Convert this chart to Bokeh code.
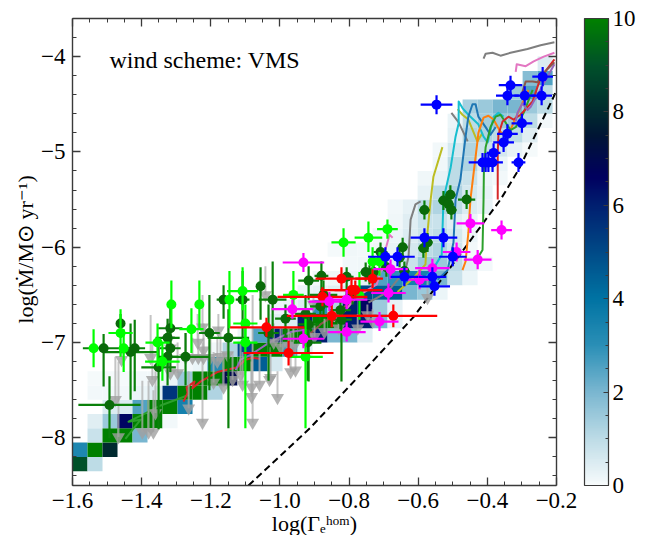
from bokeh.plotting import figure
from bokeh.models import (ColumnDataSource, LinearColorMapper, ColorBar, FixedTicker, LinearAxis,
                          Label, Range1d)
from bokeh.embed import file_html
from bokeh.resources import INLINE

NAN = float("nan")
SERIF = "Liberation Serif"

x_title = "log(\u0393\u2091\u02b0\u1d52\u1d50)"
y_title = "log(\u1e40/M\u2299 yr\u207b\u00b9)"

# --- 2D histogram: row index -> (first column, counts)
heat_rows = [
    (0, [9, 1]),
    (0, [3.3, 10, 8]),
    (1, [0.8, 10, 10, 2]),
    (1, [0.4, 1.5, 6.5, 10, 10, 0.1]),
    (2, [0.5, 0.5, 2.5, 10, 10, 3.5]),
    (1, [0.1, 0.1, 0.1, 0.2, 0.4, 5.5, 10, 10, 1.2]),
    (1, [0.05, 0.05, 0.05, 0.1, 0.1, 0.2, 1.5, 10, 10, 7, 0.2]),
    (7, [0.1, 0.2, 3.2, 10, 10, 4.5, 0.6]),
    (9, [0.1, 1.2, 5, 10, 10, 2.8, 0.4]),
    (11, [0.2, 2.5, 6, 10, 10, 6, 2, 2, 0.4]),
    (13, [0.4, 0.5, 6, 10, 10, 6, 6, 2, 0.3]),
    (13, [0.2, 0.3, 0.5, 3, 1.2, 6, 6.5, 1.5, 0.3]),
    (15, [0.2, 0.3, 0.4, 0.5, 5, 4.5, 4.5, 2, 1.5, 0.2]),
    (16, [0.1, 0.15, 0.2, 0.3, 2.5, 3, 3.5, 3.5, 2, 0.8, 0.2]),
    (18, [0.1, 0.15, 0.2, 0.5, 0.8, 1.5, 1.5, 1, 0.4, 0.1]),
    (17, [0.05, 0.15, 0.1, 0.15, 0.3, 0.6, 1, 1.2, 0.7, 0.1]),
    (20, [0.1, 0.2, 0.5, 0.8, 1, 0.6, 0.2]),
    (21, [0.15, 0.4, 0.8, 0.8, 0.4, 0.2]),
    (21, [0.1, 0.3, 1, 1.2, 1, 0.5, 0.3]),
    (23, [0.3, 1, 1.2, 0.6, 0.3]),
    (23, [0.15, 0.3, 1, 0.8, 0.2, 0.1]),
    (24, [0.15, 1, 1.2, 0.4, 0.2]),
    (24, [0.1, 0.6, 1.2, 0.8, 0.6, 0.3, 0.05]),
    (25, [0.3, 1.2, 1.2, 1, 1, 0.4]),
    (25, [0.2, 1, 1.4, 1.5, 1.5, 1, 0.1]),
    (26, [1.3, 1.5, 2, 2, 1.5, 1]),
    (29, [1.5, 2.5, 1]),
    (30, [1.8, 2.5]),
    (31, [0.5]),
]
heat_x0 = -1.6
heat_dx = 0.0434
heat_y0 = -8.35
heat_dy = 0.15

# --- colour map stops
cmap_stops = [(0, "#f7fbfc"), (1, "#bcdbe6"), (2, "#79b6d0"), (3, "#2a8fb6"), (4, "#0073a3"),
              (5, "#004a87"), (6, "#001f70"), (6.6, "#000060"), (7.5, "#001535"),
              (8, "#002a2f"), (9, "#00502a"), (10, "#008000")]

# --- observations
blue_x = [-0.547, -0.333, -0.342, -0.292, -0.243, -0.24, -0.30, -0.342, -0.353, -0.382, -0.414, -0.405, -0.397,
          -0.385, -0.31, -0.582, -0.527, -0.695, -0.66, -0.50, -0.64, -0.559, -0.553]
blue_y = [-4.504, -4.30, -4.41, -4.41, -4.41, -4.21, -4.70, -4.81, -4.90, -5.01, -5.11, -5.11, -5.11,
          -5.11, -5.11, -5.90, -5.90, -6.10, -6.10, -6.10, -6.31, -6.31, -6.41]
blue_xe = [0.046, 0.034, 0.033, 0.03, 0.03, 0.03, 0.03, 0.03, 0.03, 0.02, 0.04, 0.02, 0.02,
           0.03, 0.02, 0.04, 0.04, 0.05, 0.05, 0.04, 0.04, 0.04, 0.045]
blue_ye = [0.1] * 23

magenta_x = [-0.449, -0.359, -0.489, -0.428, -0.559, -0.68, -0.596, -0.686, -0.807, -0.857, -0.932, -0.712, -0.807,
             -0.932, -0.964]
magenta_y = [-5.75, -5.82, -6.05, -6.13, -6.22, -6.23, -6.34, -6.48, -6.55, -6.57, -6.16, -6.78, -6.89,
             -6.96, -6.65]
magenta_xe = [0.04, 0.03, 0.04, 0.04, 0.05, 0.05, 0.04, 0.05, 0.06, 0.06, 0.06, 0.055, 0.055, 0.06, 0.06]
magenta_ye = [0.1, 0.1, 0.1, 0.1, 0.1, 0.1, 0.1, 0.1, 0.1, 0.1, 0.1, 0.1, 0.1, 0.1, 0.1]

red_x = [-1.039, -0.975, -0.85, -0.877, -0.822, -0.793, -0.782, -0.732, -0.672]
red_y = [-6.84, -7.11, -6.72, -6.52, -6.33, -6.45, -6.45, -6.33, -6.72]
red_xlo = [0.105, 0.13, 0.13, 0.13, 0.075, 0.09, 0.06, 0.05, 0.24]
red_xhi = [0.11, 0.13, 0.13, 0.13, 0.075, 0.09, 0.06, 0.03, 0.127]
red_ye = [0.1, 0.13, 0.12, 0.1, 0.12, 0.12, 0.1, 0.1, 0.12]

lime_x = [-1.539, -1.461, -1.452, -1.354, -1.314, -1.256, -1.233, -1.34, -1.146, -1.108, -1.10, -1.10, -0.961, -0.926,
          -0.816, -0.744, -0.689, -0.732, -0.712, -0.77]
lime_y = [-7.06, -6.90, -7.06, -7.0, -6.60, -6.86, -6.60, -7.20, -6.55, -6.46, -6.80, -7.0, -6.5, -7.15,
          -5.95, -5.90, -5.81, -6.15, -6.15, -6.51]
lime_xe = [0.0, 0.035, 0.01, 0.035, 0.0, 0.035, 0.0, 0.05, 0.0, 0.045, 0.035, 0.035, 0.03, 0.05,
           0.035, 0.04, 0.03, 0.0, 0.0, 0.0]
lime_ylo = [0.2, 0.25, 0.25, 0.25, 0.25, 0.25, 0.25, 0.2, 0.3, 0.2, 0.25, 0.9, 0.2, 0.75,
            0.15, 0.15, 0.1, 0.15, 0.15, 0.25]
lime_yhi = [0.2, 0.25, 0.2, 0.2, 0.25, 0.22, 0.25, 0.2, 0.3, 0.25, 0.2, 0.2, 0.25, 0.4,
            0.15, 0.17, 0.1, 0.15, 0.1, 0.25]

dgreen_x = [-1.51, -1.461, -1.42, -1.432, -1.493, -1.317, -1.325, -1.317, -1.325, -1.351, -1.273, -1.204, -1.163,
            -1.108, -1.149, -1.056, -1.021, -1.033, -0.917, -0.88, -0.874, -0.984, -0.926, -0.92, -0.807, -0.883,
            -0.917, -0.825, -0.822, -0.79, -0.752, -0.741, -0.729, -0.709, -0.692, -0.645, -0.654, -0.64, -0.585,
            -0.573, -0.507, -0.527, -0.512, -0.46, -0.582, -0.504]
dgreen_y = [-7.06, -6.80, -7.06, -7.10, -7.655, -6.85, -6.95, -7.06, -7.15, -7.26, -7.15, -6.90, -6.55,
            -6.55, -6.95, -6.41, -6.55, -6.90, -6.35, -6.30, -6.50, -6.75, -6.70, -7.0, -6.31, -6.62,
            -6.81, -6.66, -6.76, -6.5, -6.26, -6.29, -6.26, -6.05, -6.21, -6.0, -6.11, -6.25, -6.01,
            -5.95, -5.45, -5.51, -5.55, -5.50, -5.61, -5.61]
dgreen_xe = [0.06, 0.0, 0.03, 0.08, 0.09, 0.035, 0.035, 0.03, 0.03, 0.05, 0.07, 0.03, 0.02,
             0.02, 0.06, 0.01, 0.04, 0.03, 0.03, 0.02, 0.04, 0.03, 0.03, 0.04, 0.02, 0.03,
             0.03, 0.03, 0.03, 0.02, 0.015, 0.015, 0.015, 0.02, 0.015, 0.015, 0.015, 0.015, 0.015,
             0.015, 0.015, 0.015, 0.015, 0.025, 0.015, 0.015]
dgreen_ylo = [0.4, 0.15, 0.45, 0.5, 0.35, 0.3, 0.3, 0.25, 0.3, 0.65, 0.3, 0.6, 0.2,
              0.4, 0.95, 0.35, 0.4, 0.5, 0.2, 0.2, 0.2, 0.2, 0.2, 0.4, 0.2, 0.15,
              0.6, 0.2, 0.65, 0.1, 0.1, 0.1, 0.1, 0.1, 0.1, 0.1, 0.1, 0.1, 0.1,
              0.1, 0.1, 0.1, 0.1, 0.1, 0.1, 0.1]
dgreen_yhi = [0.15, 0.1, 0.3, 0.3, 0.3, 0.3, 0.2, 0.2, 0.2, 0.3, 0.25, 0.4, 0.15,
              0.3, 0.3, 0.2, 0.4, 0.3, 0.15, 0.15, 0.15, 0.15, 0.2, 0.2, 0.1, 0.1,
              0.15, 0.1, 0.1, 0.1, 0.1, 0.1, 0.1, 0.1, 0.1, 0.1, 0.1, 0.1, 0.1,
              0.1, 0.1, 0.1, 0.1, 0.1, 0.1, 0.1]

# upper limits
limit_x = [-1.476, -1.458, -1.374, -1.369, -1.398, -1.38, -1.366, -1.467, -1.36, -1.322, -1.317, -1.224, -1.238,
           -1.221, -1.273, -1.253, -1.236, -1.221, -1.201, -1.178, -1.317, -1.296, -1.192, -1.163, -1.224, -1.264,
           -1.137, -1.108, -1.082, -1.082, -1.059, -1.03, -1.007, -1.079, -1.114, -1.152, -1.172, -1.181, -1.042,
           -1.018, -0.998, -0.975, -0.961, -0.573, -0.747, -0.732, -0.775, -0.83, -0.871, -0.903, -0.9, -0.969,
           -1.027, -0.955]
limit_y = [-7.60, -7.18, -7.16, -7.39, -7.94, -7.94, -7.94, -7.99, -7.74, -6.97, -7.06, -6.84, -7.0,
           -7.08, -7.16, -7.16, -7.16, -7.16, -7.16, -6.87, -7.32, -7.32, -7.42, -7.47, -7.84, -7.69,
           -7.39, -7.44, -7.47, -7.57, -7.44, -7.39, -7.58, -7.84, -7.34, -7.13, -7.15, -7.2, -6.5,
           -7.0, -7.05, -7.03, -7.05, -6.53, -6.71, -6.78, -6.85, -6.85, -6.89, -6.6, -6.94, -7.31,
           -7.37, -7.29]
limit_top = [-7.15, -7.03, -6.71, -7.0, -7.4, -7.4, -7.5, -7.2, -7.3, -6.75, -6.8, -6.5, -6.7,
             -6.8, -6.9, -6.95, -6.9, -6.95, -6.95, -6.7, -7.0, -7.0, -7.1, -7.1, -7.0, -7.3,
             -7.1, -7.1, -7.1, -7.2, -7.1, -7.05, -7.3, -6.5, -7.0, -6.9, -6.9, -6.95, -6.2,
             -6.8, -6.85, -6.85, -6.85, -6.3, -6.6, -6.65, -6.7, -6.7, -6.75, -6.5, -6.8, -6.9,
             -7.1, -7.0]

# --- stellar tracks
trk_green_mid_x = [-1.447, -1.403, -1.438, -1.398, -1.345, -1.264]
trk_green_mid_y = [-8.01, -7.81, -7.83, -7.76, -7.66, -7.55]
trk_red_mid_x = [-1.279, -1.267, -1.27, -1.247, -1.253, -1.23, -1.181, -1.123, -1.10, -1.079, -1.059]
trk_red_mid_y = [-7.62, -7.53, -7.47, -7.41, -7.48, -7.41, -7.31, -7.26, -7.18, -7.16, -7.17]
trk_purple_mid_x = [-1.128, -1.114, -1.085, -1.027, -0.969, -0.92, -0.906]
trk_purple_mid_y = [-7.29, -7.18, -7.13, -6.99, -6.89, -6.86, -6.94]
trk_brown_mid_x = [-0.94, -0.883, -0.84, -0.796, -0.752]
trk_brown_mid_y = [-7.0, -6.81, -6.71, -6.57, -6.45]
trk_pink_mid_x = [-0.845, -0.81, -0.781, -0.747, -0.72, -0.70, -0.695, -0.683, -0.674]
trk_pink_mid_y = [-6.78, -6.66, -6.53, -6.45, -6.39, -6.15, -6.03, -5.87, -5.90]
trk_gray_mid_x = [-0.744, -0.689, -0.637, -0.628, -0.622, -0.608, -0.593, NAN, -0.504, -0.483, -0.457]
trk_gray_mid_y = [-6.58, -6.47, -6.24, -6.10, -5.71, -5.55, -5.52, NAN, -4.59, -4.69, -4.89]
trk_olive_x = [-0.66, -0.613, -0.579, -0.576, -0.564, -0.556, -0.53, NAN, -0.486, -0.472, -0.455, -0.429, -0.414]
trk_olive_y = [-6.47, -6.32, -6.18, -5.95, -5.5, -5.26, -4.95, NAN, -4.55, -4.61, -4.66, -4.89, -4.80]
trk_cyan_x = [-0.593, -0.559, -0.532, -0.527, -0.506, -0.492, -0.483, -0.483, -0.472, -0.455, -0.426, -0.411, -0.399,
              -0.382, -0.368, -0.353]
trk_cyan_y = [-6.37, -6.24, -6.08, -5.50, -5.16, -4.84, -4.70, -4.47, -4.54, -4.61, -4.71, -4.84, -4.90,
              -4.63, -4.59, -4.63]
trk_blue_x = [-0.544, -0.515, -0.498, -0.492, -0.478, -0.463, -0.455, -0.443, -0.434, -0.426, -0.405, -0.391, -0.376]
trk_blue_y = [-6.34, -6.24, -5.95, -5.50, -5.29, -4.84, -4.63, -4.50, -4.50, -4.63, -4.74, -4.82, -4.74]
trk_orange_x = [-0.472, -0.463, -0.455, -0.449, -0.443, -0.429, -0.426, -0.411, -0.397, -0.382, -0.362, -0.342, -0.304,
                -0.281]
trk_orange_y = [-6.24, -6.15, -5.85, -5.50, -5.32, -4.90, -4.80, -4.64, -4.62, -4.66, -4.79, -4.84, -4.53, -4.35]
trk_green_x = [-0.426, -0.414, -0.411, -0.41, -0.405, -0.391, -0.376, -0.362, -0.333, -0.318, -0.295, -0.269]
trk_green_y = [-6.10, -6.03, -5.50, -5.19, -4.95, -4.74, -4.63, -4.61, -4.77, -4.74, -4.59, -4.35]
trk_red_x = [-0.37, -0.37, -0.368, -0.356, -0.339, -0.324, -0.304, -0.269, -0.246, -0.206]
trk_red_y = [-5.50, -5.01, -4.82, -4.68, -4.63, -4.66, -4.61, -4.47, -4.22, -4.03]
trk_purple_x = [-0.318, -0.313, -0.298, -0.284, -0.275, -0.206]
trk_purple_y = [-4.68, -4.59, -4.49, -4.56, -4.53, -4.08]
trk_brown_x = [-0.301, -0.289, -0.269, -0.255, -0.237, -0.206]
trk_brown_y = [-4.40, -4.26, -4.26, -4.27, -4.17, -4.06]
trk_pink_x = [-0.318, -0.315, -0.289, -0.266, -0.237, -0.206]
trk_pink_y = [-4.16, -4.08, -4.10, -4.05, -4.0, -3.96]
trk_gray_x = [-0.411, -0.405, -0.385, -0.362, -0.333, -0.284, -0.246, -0.206]
trk_gray_y = [-4.02, -3.97, -3.96, -3.99, -3.96, -3.92, -3.88, -3.85]

# dashed limit curve
limit_curve_x = [-1.091, -0.911, -0.776, -0.613, -0.486, -0.362, -0.31, -0.261, -0.208, -0.2]
limit_curve_y = [-8.50, -7.89, -7.37, -6.73, -6.11, -5.50, -5.19, -4.82, -4.42, -4.35]

x_ticks = [-1.6, -1.4, -1.2, -1.0, -0.8, -0.6, -0.4, -0.2]
x_minor = [-1.6 + 0.05 * i for i in range(29)]
y_ticks = [-8, -7, -6, -5, -4]
y_minor = [-8.4 + 0.2 * i for i in range(25)]
cb_ticks = [0, 2, 4, 6, 8, 10]
cb_minor = [0.5 * i for i in range(21)]


def hexmix(a, b, t):
    ca = [int(a[i:i + 2], 16) for i in (1, 3, 5)]
    cb = [int(b[i:i + 2], 16) for i in (1, 3, 5)]
    return "#%02x%02x%02x" % tuple(round(u + (v - u) * t) for u, v in zip(ca, cb))


palette = []
for k in range(256):
    v = 10 * k / 255
    for (v0, c0), (v1, c1) in zip(cmap_stops, cmap_stops[1:]):
        if v0 <= v <= v1:
            palette.append(hexmix(c0, c1, (v - v0) / (v1 - v0)))
            break
mapper = LinearColorMapper(palette=palette, low=0, high=10)

p = figure(frame_width=484, frame_height=467, output_backend="svg", toolbar_location=None,
           x_range=Range1d(-1.6, -0.2), y_range=Range1d(-8.5, -3.6),
           min_border_left=72, min_border_top=18, min_border_bottom=50, min_border_right=0,
           background_fill_color="white", outline_line_color=None, x_axis_type=None, y_axis_type=None)
p.grid.visible = False

AX = "#3a3a3a"
TICK_SIZE = "23px"


def style(ax, ticks, minor, labels, title=None):
    ax.ticker = FixedTicker(ticks=ticks, minor_ticks=minor)
    ax.axis_line_color = AX
    ax.axis_line_width = 1.4
    ax.major_tick_line_color = AX
    ax.minor_tick_line_color = AX
    ax.major_tick_line_width = 1.3
    ax.minor_tick_line_width = 1.0
    ax.major_tick_in = 8
    ax.major_tick_out = 0
    ax.minor_tick_in = 4
    ax.minor_tick_out = 0
    if labels:
        ax.major_label_overrides = {t: ("\u2212" + str(abs(t))) for t in ticks}
        ax.major_label_text_font = SERIF
        ax.major_label_text_font_size = TICK_SIZE
        ax.major_label_text_color = "black"
        ax.major_label_standoff = 7
        ax.axis_label = title
        ax.axis_label_text_font = SERIF
        ax.axis_label_text_font_size = "22px"
        ax.axis_label_text_font_style = "normal"
        ax.axis_label_text_color = "black"
        ax.axis_label_standoff = 0
    else:
        ax.major_label_overrides = {t: "" for t in ticks}
        ax.major_label_standoff = 0


b = LinearAxis(); style(b, x_ticks, x_minor, True, x_title); p.add_layout(b, "below")
l = LinearAxis(); style(l, y_ticks, y_minor, True, y_title); p.add_layout(l, "left")
t = LinearAxis(); style(t, x_ticks, x_minor, False); p.add_layout(t, "above")
r = LinearAxis(); style(r, y_ticks, y_minor, False); p.add_layout(r, "right")

# histogram
lft, rgt, bot, top, val = [], [], [], [], []
for j, (c0, vals) in enumerate(heat_rows):
    for i, v in enumerate(vals):
        lft.append(heat_x0 + (c0 + i) * heat_dx)
        rgt.append(heat_x0 + (c0 + i + 1) * heat_dx)
        bot.append(heat_y0 + j * heat_dy)
        top.append(heat_y0 + (j + 1) * heat_dy)
        val.append(v)
p.quad(left="l", right="r", bottom="b", top="t",
       source=ColumnDataSource(dict(l=lft, r=rgt, b=bot, t=top, v=val)),
       fill_color={"field": "v", "transform": mapper}, line_color=None)

# dashed curve
p.line(limit_curve_x, limit_curve_y, line_color="black", line_width=2, line_dash="7 4")

# tracks
tracks = [
    (trk_green_mid_x, trk_green_mid_y, "#2ca02c"), (trk_red_mid_x, trk_red_mid_y, "#d62728"),
    (trk_purple_mid_x, trk_purple_mid_y, "#9467bd"), (trk_brown_mid_x, trk_brown_mid_y, "#8c564b"),
    (trk_pink_mid_x, trk_pink_mid_y, "#e377c2"), (trk_gray_mid_x, trk_gray_mid_y, "#7f7f7f"),
    (trk_olive_x, trk_olive_y, "#bcbd22"), (trk_cyan_x, trk_cyan_y, "#17becf"),
    (trk_blue_x, trk_blue_y, "#1f77b4"), (trk_orange_x, trk_orange_y, "#ff7f0e"),
    (trk_green_x, trk_green_y, "#2ca02c"), (trk_red_x, trk_red_y, "#d62728"),
    (trk_purple_x, trk_purple_y, "#9467bd"), (trk_brown_x, trk_brown_y, "#8c564b"),
    (trk_pink_x, trk_pink_y, "#e377c2"), (trk_gray_x, trk_gray_y, "#7f7f7f"),
]
for tx, ty, tc in tracks:
    p.line(tx, ty, line_color=tc, line_width=2, line_join="round")

# upper limits
p.segment(limit_x, limit_y, limit_x, limit_top, line_color="#b0b0b0", line_width=2, line_alpha=0.75)
p.scatter(limit_x, limit_y, marker="inverted_triangle", size=13, fill_color="#a0a0a0",
          fill_alpha=0.8, line_color=None)


def errs(xs, ys, xlo, xhi, ylo, yhi, col, mcol, size=10):
    p.segment([a - d for a, d in zip(xs, xlo)], ys, [a + d for a, d in zip(xs, xhi)], ys,
              line_color=col, line_width=2.2)
    p.segment(xs, [a - d for a, d in zip(ys, ylo)], xs, [a + d for a, d in zip(ys, yhi)],
              line_color=col, line_width=2.2)
    p.scatter(xs, ys, marker="circle", size=size, fill_color=mcol, line_color=None)


errs(dgreen_x, dgreen_y, dgreen_xe, dgreen_xe, dgreen_ylo, dgreen_yhi, "#0a800a", "#0a6a0a")
errs(lime_x, lime_y, lime_xe, lime_xe, lime_ylo, lime_yhi, "#00ff00", "#00ff00")
errs(red_x, red_y, red_xlo, red_xhi, red_ye, red_ye, "#ff0000", "#ff0000")
errs(magenta_x, magenta_y, magenta_xe, magenta_xe, magenta_ye, magenta_ye, "#ff00ff", "#ff00ff")
errs(blue_x, blue_y, blue_xe, blue_xe, blue_ye, blue_ye, "#0000ff", "#0000ff")

# annotation
p.add_layout(Label(x=-1.493, y=-4.04, text="wind scheme: VMS", text_font=SERIF, text_font_size="24px",
                   text_color="black", text_baseline="alphabetic"))

# colour bar
cb = ColorBar(color_mapper=mapper, ticker=FixedTicker(ticks=cb_ticks, minor_ticks=cb_minor),
              width=24, height=467, margin=0, padding=0, location=(28, 0),
              major_tick_line_color=AX, major_tick_in=5, minor_tick_line_color=AX, minor_tick_in=3,
              major_label_text_font=SERIF, major_label_text_font_size=TICK_SIZE, major_label_text_color="black",
              label_standoff=4, bar_line_color=AX, bar_line_width=1.2,
              major_label_overrides={c: str(c) for c in cb_ticks})
p.add_layout(cb, "right")

open("out.html", "w").write(file_html(p, INLINE))
